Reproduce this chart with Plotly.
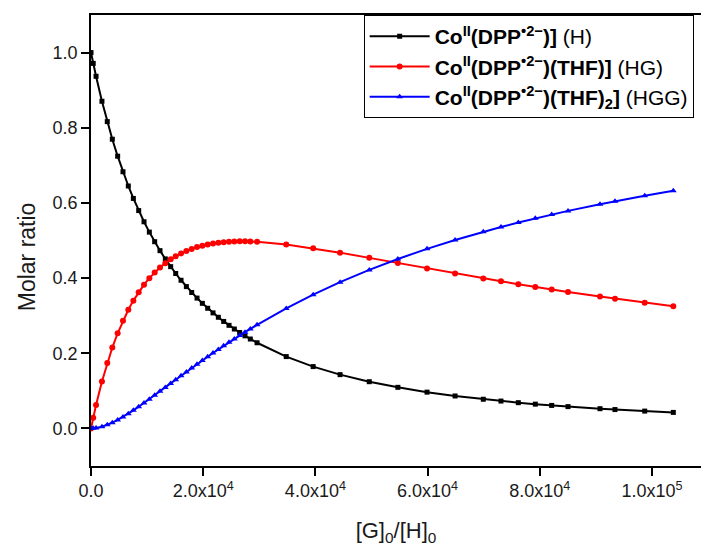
import plotly.graph_objects as go

g_ratio = [0, 400, 900, 1950, 2900, 3800, 4750, 5700, 6650, 7550, 8500, 9450,
           10400, 11350, 12300, 13250, 14200, 15100, 16050, 17000, 17950, 18900,
           19850, 20800, 21750, 22700, 23650, 24600, 25550, 26500, 27450, 28400,
           29600, 34800, 39600, 44400, 49600, 54700, 59900, 64900, 69930, 73080,
           76170, 79200, 82120, 85030, 90730, 93400, 98700, 103800]

h_frac = [1.0, 0.9712, 0.9369, 0.8705, 0.8163, 0.7695, 0.7243, 0.6829, 0.645, 0.6119,
          0.5796, 0.5498, 0.5223, 0.4968, 0.473, 0.451, 0.4304, 0.4122, 0.3942, 0.3774,
          0.3616, 0.3468, 0.3328, 0.3197, 0.3074, 0.2957, 0.2847, 0.2743, 0.2645, 0.2552,
          0.2463, 0.2379, 0.2279, 0.1911, 0.1645, 0.1431, 0.1243, 0.1093, 0.0965, 0.0863,
          0.0776, 0.0728, 0.0685, 0.0646, 0.0612, 0.058, 0.0525, 0.0502, 0.0461, 0.0426]

hg_frac = [0.0, 0.0286, 0.0621, 0.1249, 0.1742, 0.2152, 0.2532, 0.2865, 0.3157, 0.34,
           0.3626, 0.3824, 0.3998, 0.415, 0.4282, 0.4398, 0.4499, 0.4581, 0.4657, 0.4722,
           0.4777, 0.4824, 0.4863, 0.4895, 0.4921, 0.4941, 0.4956, 0.4967, 0.4974, 0.4977,
           0.4977, 0.4974, 0.4966, 0.4896, 0.4796, 0.4677, 0.4538, 0.4399, 0.4257, 0.4123,
           0.3992, 0.3913, 0.3838, 0.3765, 0.3698, 0.3632, 0.3509, 0.3453, 0.3347, 0.3251]

hgg_frac = [0.0, 0.0002, 0.0011, 0.0046, 0.0095, 0.0153, 0.0225, 0.0306, 0.0393, 0.0481,
            0.0578, 0.0677, 0.0779, 0.0883, 0.0987, 0.1092, 0.1197, 0.1296, 0.1401, 0.1504,
            0.1607, 0.1709, 0.1809, 0.1908, 0.2006, 0.2102, 0.2197, 0.229, 0.2381, 0.2471,
            0.256, 0.2647, 0.2755, 0.3193, 0.3559, 0.3892, 0.4218, 0.4509, 0.4778, 0.5014,
            0.5232, 0.5359, 0.5478, 0.5589, 0.569, 0.5788, 0.5966, 0.6044, 0.6192, 0.6324]

names = [
    "<b>Co<sup>II</sup>(DPP<sup>•2−</sup>)]</b> (H)",
    "<b>Co<sup>II</sup>(DPP<sup>•2−</sup>)(THF)]</b> (HG)",
    "<b>Co<sup>II</sup>(DPP<sup>•2−</sup>)(THF)<sub>2</sub>]</b> (HGG)",
]

x_tickvals = [0, 20000, 40000, 60000, 80000, 100000]
x_ticktext = ["0.0", "2.0x10<sup>4</sup>", "4.0x10<sup>4</sup>", "6.0x10<sup>4</sup>",
              "8.0x10<sup>4</sup>", "1.0x10<sup>5</sup>"]
y_tickvals = [0.0, 0.2, 0.4, 0.6, 0.8, 1.0]

fig = go.Figure()
fig.add_trace(go.Scatter(x=g_ratio, y=h_frac, mode="lines+markers", name=names[0],
                         line=dict(color="#000000", width=2),
                         marker=dict(symbol="square", size=5, color="#000000")))
fig.add_trace(go.Scatter(x=g_ratio, y=hg_frac, mode="lines+markers", name=names[1],
                         line=dict(color="#FF0000", width=2),
                         marker=dict(symbol="circle", size=6, color="#FF0000")))
fig.add_trace(go.Scatter(x=g_ratio, y=hgg_frac, mode="lines+markers", name=names[2],
                         line=dict(color="#0000FF", width=2),
                         marker=dict(symbol="triangle-up", size=6, color="#0000FF")))

font_family = "Liberation Sans, Arial, sans-serif"
fig.update_layout(
    width=701, height=546,
    margin=dict(l=91, r=0, t=15, b=80),
    paper_bgcolor="white", plot_bgcolor="white",
    font=dict(family=font_family, color="#1a1a1a"),
    showlegend=True,
    legend=dict(x=0.447, y=1.0, xanchor="left", yanchor="top",
                bordercolor="#000000", borderwidth=1, bgcolor="white",
                font=dict(size=21, color="#000000", family=font_family),
                tracegroupgap=0, itemwidth=60),
    xaxis=dict(range=[0, 108734], tickvals=x_tickvals, ticktext=x_ticktext,
               showgrid=False, zeroline=False, showline=True, linecolor="#000000",
               linewidth=1.5, mirror=True, ticks="outside", ticklen=8, tickwidth=1.5,
               tickcolor="#000000", tickfont=dict(size=18),
               title=dict(text="[G]<sub>0</sub>/[H]<sub>0</sub>", font=dict(size=22),
                          standoff=24)),
    yaxis=dict(range=[-0.1, 1.1], tickvals=y_tickvals, tickformat=".1f",
               showgrid=False, zeroline=False, showline=True, linecolor="#000000",
               linewidth=1.5, mirror=False, ticks="outside", ticklen=8, tickwidth=1.5,
               tickcolor="#000000", tickfont=dict(size=18)),
    annotations=[dict(text="Molar ratio", textangle=-90, xref="paper", yref="paper",
                      x=-0.105, y=0.465, xanchor="center", yanchor="middle",
                      showarrow=False, font=dict(size=23, color="#1a1a1a"))],
)

fig.write_html("out.html")
